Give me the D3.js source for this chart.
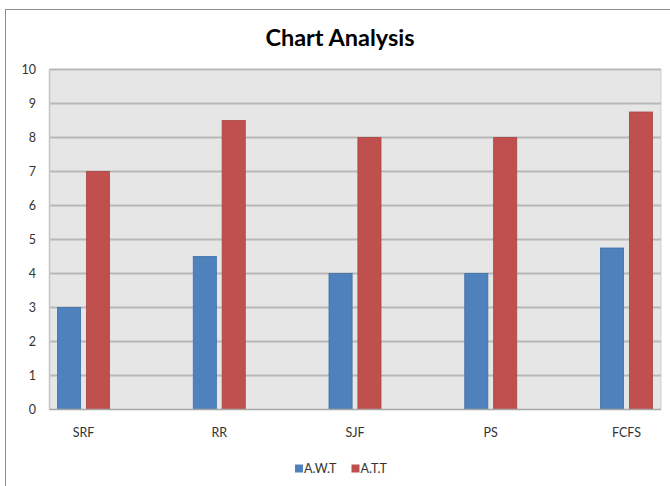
<!DOCTYPE html>
<html>
<head>
<meta charset="utf-8">
<script src="https://cdn.jsdelivr.net/npm/d3@7"></script>
<style>
  html, body { margin: 0; padding: 0; background: #fff; }
  svg { display: block; font-family: Lato, "Open Sans", sans-serif; }
</style>
</head>
<body>
<svg id="chart" width="670" height="486"></svg>
<script>
// Scheduling algorithms compared
const categories = ["SRF", "RR", "SJF", "PS", "FCFS"];
const seriesNames = ["A.W.T", "A.T.T"];
const awt = [3, 4.5, 4, 4, 4.75];
const att = [7, 8.5, 8, 8, 8.75];
const yTicks = [0, 1, 2, 3, 4, 5, 6, 7, 8, 9, 10];
const seriesColors = ["#4f81bd", "#c0504d"];
const seriesStrokes = ["#3f6fa8", "#a94441"];

const svg = d3.select("#chart");
const W = 670, H = 486;

// chart frame (extends past the right and bottom edges)
svg.append("rect")
  .attr("x", 5.5).attr("y", 9.5)
  .attr("width", W + 10).attr("height", H + 10)
  .attr("fill", "#fff").attr("stroke", "#8c8c8c").attr("stroke-width", 1);

// plot area
const plot = { left: 49.5, right: 661, top: 69.5, bottom: 409.5 };

svg.append("rect")
  .attr("x", plot.left).attr("y", plot.top)
  .attr("width", plot.right - plot.left).attr("height", plot.bottom - plot.top)
  .attr("fill", "#e6e6e6").attr("stroke", "#cfcfcf").attr("stroke-width", 1);

const y = d3.scaleLinear().domain([0, 10]).range([plot.bottom, plot.top]);

const step = 135.75;
const firstCenter = 83.5;
const x0 = d3.scaleBand()
  .domain(categories)
  .range([firstCenter - step / 2, firstCenter - step / 2 + step * categories.length])
  .padding(0);

const groupHalf = 26;
const x1 = d3.scaleBand()
  .domain(seriesNames)
  .range([x0.bandwidth() / 2 - groupHalf, x0.bandwidth() / 2 + groupHalf])
  .paddingInner(0.2)
  .paddingOuter(0);

// horizontal gridlines
svg.append("g")
  .selectAll("line")
  .data(yTicks.filter(t => t > 0))
  .join("line")
  .attr("x1", plot.left).attr("x2", plot.right)
  .attr("y1", d => y(d)).attr("y2", d => y(d))
  .attr("stroke", "#b8b8b8").attr("stroke-width", 1.8);

// left edge of the plot
svg.append("line")
  .attr("x1", plot.left).attr("x2", plot.left)
  .attr("y1", plot.top).attr("y2", plot.bottom)
  .attr("stroke", "#c4c4c4").attr("stroke-width", 1.5);

// bars
const rows = categories.map((c, i) => ({ cat: c, values: [awt[i], att[i]] }));

const groups = svg.append("g")
  .selectAll("g")
  .data(rows)
  .join("g")
  .attr("transform", d => `translate(${x0(d.cat)},0)`);

groups.selectAll("rect")
  .data(d => d.values.map((v, k) => ({ name: seriesNames[k], k, v })))
  .join("rect")
  .attr("x", d => x1(d.name))
  .attr("width", x1.bandwidth())
  .attr("y", d => y(d.v))
  .attr("height", d => y(0) - y(d.v))
  .attr("fill", d => seriesColors[d.k])
  .attr("stroke", d => seriesStrokes[d.k])
  .attr("stroke-width", 0.8);

// baseline
svg.append("line")
  .attr("x1", plot.left).attr("x2", plot.right)
  .attr("y1", y(0)).attr("y2", y(0))
  .attr("stroke", "#a6a6a6").attr("stroke-width", 1.5);

// y axis labels
svg.append("g")
  .selectAll("text")
  .data(yTicks)
  .join("text")
  .attr("x", 36)
  .attr("y", d => y(d))
  .attr("dy", "0.35em")
  .attr("text-anchor", "end")
  .attr("font-size", 12.5)
  .attr("fill", "#333")
  .text(d => d);

// category labels
svg.append("g")
  .selectAll("text")
  .data(categories)
  .join("text")
  .attr("x", d => x0(d) + x0.bandwidth() / 2)
  .attr("y", 433)
  .attr("dy", "0.35em")
  .attr("text-anchor", "middle")
  .attr("font-size", 12.5)
  .attr("fill", "#333")
  .text(d => d);

// title
svg.append("text")
  .attr("x", 340).attr("y", 38)
  .attr("dy", "0.35em")
  .attr("text-anchor", "middle")
  .attr("font-size", 23.5)
  .attr("font-weight", "bold")
  .attr("fill", "#000")
  .text("Chart Analysis");

// legend
const legendX = [295, 351.5];
const legend = svg.append("g")
  .selectAll("g")
  .data(seriesNames)
  .join("g")
  .attr("transform", (d, i) => `translate(${legendX[i]},464.5)`);

legend.append("rect")
  .attr("width", 8).attr("height", 8)
  .attr("fill", (d, i) => seriesColors[i]);

legend.append("text")
  .attr("x", 9).attr("y", 4)
  .attr("dy", "0.35em")
  .attr("font-size", 12.5)
  .attr("fill", "#333")
  .text(d => d);
</script>
</body>
</html>
